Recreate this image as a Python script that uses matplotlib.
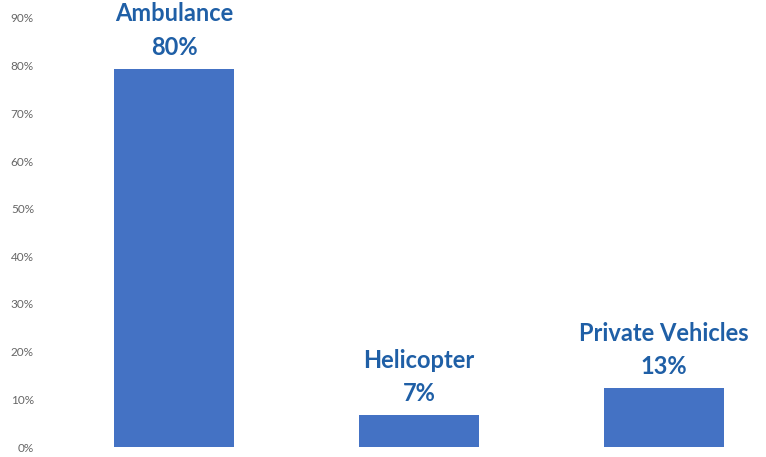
import matplotlib.pyplot as plt
from matplotlib.ticker import FuncFormatter

categories = ["Ambulance", "Helicopter", "Private Vehicles"]
values = [79.4, 6.7, 12.4]
labels = ["80%", "7%", "13%"]
yticks = [0, 10, 20, 30, 40, 50, 60, 70, 80, 90]

plt.rcParams['font.family'] = ['Lato', 'DejaVu Sans']

fig = plt.figure(figsize=(7.66, 4.57), dpi=100)
ax = fig.add_axes([52/766, 10/457, 1 - 52/766, (447 - 18)/457])

x = range(len(categories))
bars = ax.bar(x, values, width=0.49, color="#4472C4")

for b, cat, lab in zip(bars, categories, labels):
    ax.annotate(cat + "\n" + lab, (b.get_x() + b.get_width()/2, b.get_height()),
                xytext=(0, 7), textcoords="offset points", ha="center", va="bottom",
                fontsize=17, fontweight="bold", color="#1F5FA6",
                linespacing=1.55, annotation_clip=False)

ax.set_xlim((52 - 174)/245, (766 - 174)/245)
ax.set_ylim(0, 90)
ax.set_yticks(yticks)
ax.yaxis.set_major_formatter(FuncFormatter(lambda v, p: f"{v:.0f}%"))
ax.tick_params(axis="y", length=0, labelsize=8.5, labelcolor="#666666", pad=13)
ax.set_xticks([])
for s in ax.spines.values():
    s.set_visible(False)

fig.savefig("out.png", dpi=100)
